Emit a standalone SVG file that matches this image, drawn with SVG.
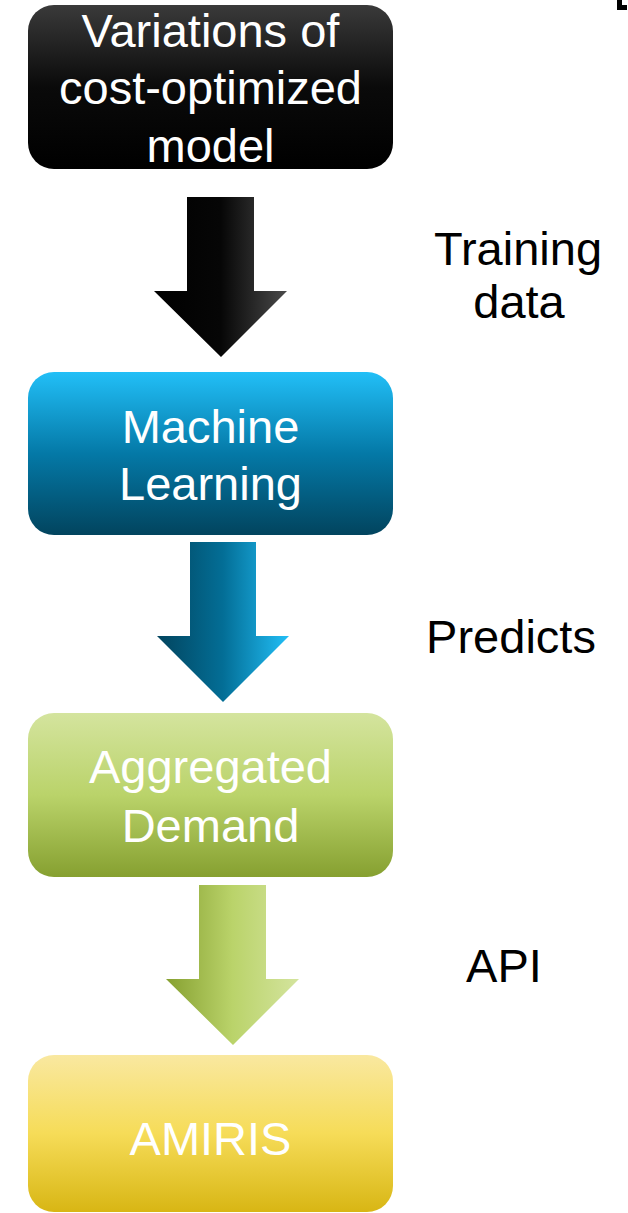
<svg xmlns="http://www.w3.org/2000/svg" width="628" height="1213" viewBox="0 0 628 1213">
<style>
.nt{font-family:"Liberation Sans",Arial,sans-serif;font-size:47px;fill:#ffffff;text-anchor:middle}
.lb{font-family:"Liberation Sans",Arial,sans-serif;font-size:47px;fill:#000000;text-anchor:middle}
</style>
<defs>
<linearGradient id="gBlack" x1="0" y1="0" x2="0" y2="1">
<stop offset="0" stop-color="#3a3a3a"/><stop offset="0.5" stop-color="#0a0a0a"/><stop offset="1" stop-color="#000000"/>
</linearGradient>
<linearGradient id="gBlue" x1="0" y1="0" x2="0" y2="1">
<stop offset="0" stop-color="#22bff7"/><stop offset="0.5" stop-color="#0479a7"/><stop offset="1" stop-color="#02445e"/>
</linearGradient>
<linearGradient id="gGreen" x1="0" y1="0" x2="0" y2="1">
<stop offset="0" stop-color="#d4e49e"/><stop offset="0.5" stop-color="#bad36a"/><stop offset="1" stop-color="#86a030"/>
</linearGradient>
<linearGradient id="gYellow" x1="0" y1="0" x2="0" y2="1">
<stop offset="0" stop-color="#f9e8a0"/><stop offset="0.5" stop-color="#f6dc58"/><stop offset="1" stop-color="#d8b614"/>
</linearGradient>
<linearGradient id="aBlack" x1="0" y1="0" x2="1" y2="0">
<stop offset="0" stop-color="#000000"/><stop offset="0.5" stop-color="#060606"/><stop offset="1" stop-color="#4a4a4a"/>
</linearGradient>
<linearGradient id="aBlue" x1="0" y1="0" x2="1" y2="0">
<stop offset="0" stop-color="#02445e"/><stop offset="0.5" stop-color="#036e96"/><stop offset="1" stop-color="#22bff7"/>
</linearGradient>
<linearGradient id="aGreen" x1="0" y1="0" x2="1" y2="0">
<stop offset="0" stop-color="#86a030"/><stop offset="0.5" stop-color="#bad36a"/><stop offset="1" stop-color="#d4e49e"/>
</linearGradient>
</defs>
<g id="connectors">
<path d="M187,197 H254 V291 H287 L221,357 L154,291 H187 Z" fill="url(#aBlack)"/>
<path d="M190,542 H256 V636 H289 L223,702 L157,636 H190 Z" fill="url(#aBlue)"/>
<path d="M199,885 H266 V979 H299 L233,1045 L166,979 H199 Z" fill="url(#aGreen)"/>
</g>
<g id="node-variations">
<rect x="28" y="5" width="365" height="164" rx="26" fill="url(#gBlack)"/>
<text class="nt" x="210.5" y="47">Variations of</text>
<text class="nt" x="210.5" y="104">cost-optimized</text>
<text class="nt" x="210.5" y="162">model</text>
</g>
<g id="node-ml">
<rect x="28" y="372" width="365" height="163" rx="26" fill="url(#gBlue)"/>
<text class="nt" x="210.5" y="443">Machine</text>
<text class="nt" x="210.5" y="500">Learning</text>
</g>
<g id="node-demand">
<rect x="28" y="713" width="365" height="164" rx="26" fill="url(#gGreen)"/>
<text class="nt" x="210.5" y="783">Aggregated</text>
<text class="nt" x="210.5" y="842">Demand</text>
</g>
<g id="node-amiris">
<rect x="28" y="1055" width="365" height="157" rx="26" fill="url(#gYellow)"/>
<text class="nt" x="210.5" y="1155">AMIRIS</text>
</g>
<g id="labels">
<text class="lb" x="518" y="265">Training</text>
<text class="lb" x="519" y="318">data</text>
<text class="lb" x="511" y="653">Predicts</text>
<text class="lb" x="504" y="982">API</text>
</g>
<path d="M617,0 H622 V5 H627 V10 H617 Z" fill="#000000"/>
</svg>
